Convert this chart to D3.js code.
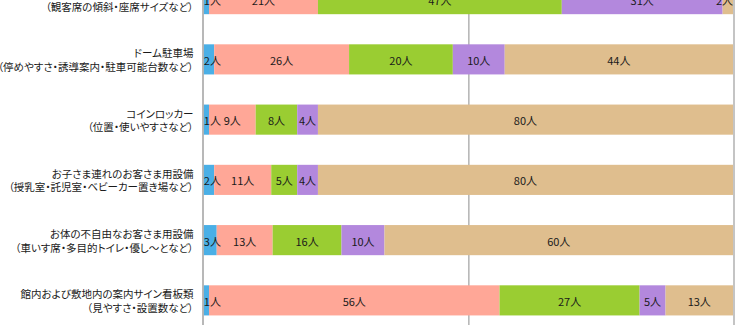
<!DOCTYPE html>
<html><head><meta charset="utf-8">
<script src="https://cdn.jsdelivr.net/npm/d3@7"></script>
<style>
body{margin:0;background:#fff;}
svg text{font-family:"Noto Sans CJK JP","Noto Sans",sans-serif;font-feature-settings:"palt";}
</style></head>
<body><svg id="c" width="748" height="325"></svg>
<script>
const categories = [
  ["観客席", "（観客席の傾斜・座席サイズなど）"],
  ["ドーム駐車場", "（停めやすさ・誘導案内・駐車可能台数など）"],
  ["コインロッカー", "（位置・使いやすさなど）"],
  ["お子さま連れのお客さま用設備", "（授乳室・託児室・ベビーカー置き場など）"],
  ["お体の不自由なお客さま用設備", "（車いす席・多目的トイレ・優し〜となど）"],
  ["館内および敷地内の案内サイン看板類", "（見やすさ・設置数など）"]
];
const series = ["s1","s2","s3","s4","s5"];
// bar lengths as drawn in the picture (shares of each row)
const s1 = [1, 2, 1, 2, 3, 1];
const s2 = [21, 26, 9, 11, 13, 56];
const s3 = [47, 20, 8, 5, 16, 27];
const s4 = [31, 10, 4, 4, 10, 5];
const s5 = [2, 44, 80, 80, 81, 13];
// data labels as printed in the picture
const l1 = [1, 2, 1, 2, 3, 1];
const l2 = [21, 26, 9, 11, 13, 56];
const l3 = [47, 20, 8, 5, 16, 27];
const l4 = [31, 10, 4, 4, 10, 5];
const l5 = [2, 44, 80, 80, 60, 13];
const colors = ["#4AAFE6","#FFA797","#9ACD32","#B388DD","#DFBE8E"];
const unit = "人";
const gridTicks = [0.5];

const seriesVals = [s1,s2,s3,s4,s5];
const labelVals = [l1,l2,l3,l4,l5];
const rows = categories.map((c,i)=>{
  const o = {i};
  series.forEach((k,j)=>o[k]=seriesVals[j][i]);
  return o;
});

const svg = d3.select("#c");
const left = 203.8, right = 733;
const x = d3.scaleLinear().domain([0,1]).range([left,right]);
const y = d3.scaleBand().domain(d3.range(categories.length)).range([-31,330.5]).paddingInner(0.5).paddingOuter(0.25);

const stack = d3.stack().keys(series).offset(d3.stackOffsetExpand);
const stacked = stack(rows);

// gridlines
svg.append("g").selectAll("line").data(gridTicks).join("line")
  .attr("x1",d=>x(d)+0.5).attr("x2",d=>x(d)+0.5).attr("y1",0).attr("y2",325)
  .attr("stroke","#8c8c8c").attr("stroke-width",1);

// bars
const g = svg.append("g");
stacked.forEach((layer,j)=>{
  g.append("g").selectAll("rect").data(layer).join("rect")
    .attr("x",d=>x(d[0])).attr("width",d=>x(d[1])-x(d[0]))
    .attr("y",(d,i)=>y(i)).attr("height",y.bandwidth())
    .attr("fill",colors[j]);
});

// right border & left axis
svg.append("line").attr("x1",right+1).attr("x2",right+1).attr("y1",0).attr("y2",325)
  .attr("stroke","#c4c4c4").attr("stroke-width",2);
svg.append("line").attr("x1",left-0.8).attr("x2",left-0.8).attr("y1",0).attr("y2",325)
  .attr("stroke","#a0a0a0").attr("stroke-width",1.5);

// value labels
const lg = svg.append("g");
stacked.forEach((layer,j)=>{
  layer.forEach((d,i)=>{
    const t = lg.append("text").text(labelVals[j][i]+unit)
      .attr("font-size","11px").attr("fill","#1a1a1a")
      .attr("text-anchor","middle").attr("dominant-baseline","central")
      .attr("y", y(i)+y.bandwidth()/2+0.5);
    const w = t.node().getComputedTextLength();
    let cx = (x(d[0])+x(d[1]))/2;
    cx = Math.max(cx, left + w/2);
    cx = Math.min(cx, right - w/2);
    t.attr("x", cx);
  });
});

// category labels
const cg = svg.append("g");
categories.forEach((c,i)=>{
  const cy = y(i)+y.bandwidth()/2;
  c.forEach((line,k)=>{
    cg.append("text").text(line)
      .attr("x",193.5).attr("y",cy + (k===0?-6.5:7))
      .attr("text-anchor","end").attr("dominant-baseline","central")
      .attr("font-size","10.5px").attr("fill","#1a1a1a");
  });
});
</script></body></html>
